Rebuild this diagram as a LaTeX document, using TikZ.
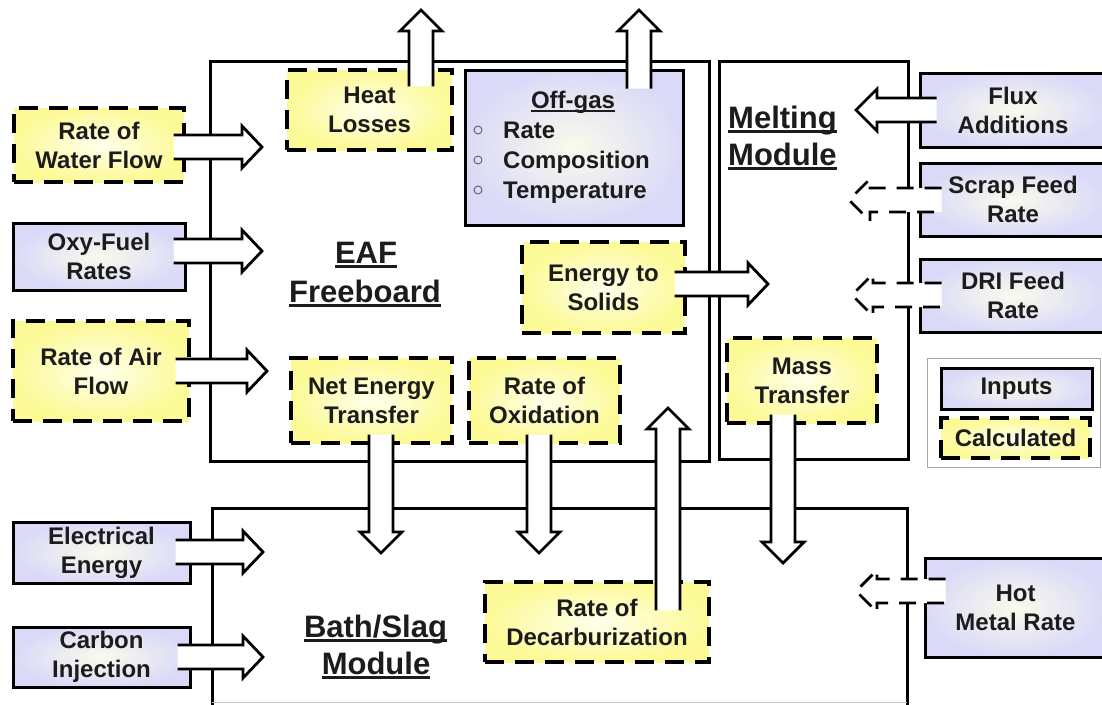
\documentclass[tikz,border=0pt]{standalone}
\usepackage{fontspec}
\setmainfont{Liberation Sans}
\usetikzlibrary{calc}
\definecolor{ylw}{RGB}{252,250,150}
\definecolor{ylwc}{RGB}{255,255,236}
\definecolor{blu}{RGB}{218,218,248}
\definecolor{bluc}{RGB}{250,250,236}
\definecolor{txt}{RGB}{28,28,28}
\newsavebox{\ulbox}
\newcommand\ulx[3]{\sbox\ulbox{#3}\rlap{\rule[-#1]{\wd\ulbox}{#2}}\usebox\ulbox}
% arrows: #1 style, #2 start, #3 tip
\newcommand\rarr[3][arr]{\path[#1] let \p1=(#2), \p2=(#3) in
  (\x1,\y1+12pt) -- (\x2-20pt,\y1+12pt) -- (\x2-20pt,\y1+21pt) -- (\x2,\y1) --
  (\x2-20pt,\y1-21pt) -- (\x2-20pt,\y1-12pt) -- (\x1,\y1-12pt);}
\newcommand\larr[3][arr]{\path[#1] let \p1=(#2), \p2=(#3) in
  (\x1,\y1+12pt) -- (\x2+21pt,\y1+12pt) -- (\x2+21pt,\y1+21pt) -- (\x2,\y1) --
  (\x2+21pt,\y1-21pt) -- (\x2+21pt,\y1-12pt) -- (\x1,\y1-12pt);}
\newcommand\uarr[3][arr]{\path[#1] let \p1=(#2), \p2=(#3) in
  (\x1-12pt,\y1) -- (\x1-12pt,\y2-21pt) -- (\x1-21pt,\y2-21pt) -- (\x1,\y2) --
  (\x1+21pt,\y2-21pt) -- (\x1+12pt,\y2-21pt) -- (\x1+12pt,\y1);}
\newcommand\darr[3][arr]{\path[#1] let \p1=(#2), \p2=(#3) in
  (\x1-12pt,\y1) -- (\x1-12pt,\y2+21pt) -- (\x1-21pt,\y2+21pt) -- (\x1,\y2) --
  (\x1+21pt,\y2+21pt) -- (\x1+12pt,\y2+21pt) -- (\x1+12pt,\y1);}
\begin{document}
\begin{tikzpicture}[x=1pt,y=-1pt,
  lbl/.style={text=txt, font=\bfseries\fontsize{24}{29}\selectfont, inner sep=0pt},
  big/.style={text=txt, font=\bfseries\fontsize{31}{37}\selectfont, inner sep=0pt},
  bx/.style={lbl, draw=black, line width=3pt, align=center},
  inbox/.style={bx, shading=radial, inner color=bluc, outer color=blu},
  calcbox/.style={bx, line width=3.2pt, dash pattern=on 19pt off 11pt, shading=radial, inner color=ylwc, outer color=ylw},
  sz/.style 2 args={minimum width=#1, minimum height=#2},
  frame/.style={draw=black, line width=3pt},
  arr/.style={draw=black, fill=white, line width=2.8pt, line join=miter},
  dasharr/.style={arr, dash pattern=on 17pt off 11pt},
]
\useasboundingbox (0,0) rectangle (1102,704);
\fill[white] (0,0) rectangle (1102,704);

% module frames
\node[frame, sz={499}{400}, anchor=north west] (eafbox) at (209,60) {};
\node[frame, sz={189}{398}, anchor=north west] (meltbox) at (718,60) {};
\draw[frame] (212,712) coordinate (bathBL) -- (212,508) coordinate (bathTL) -- (907,508) coordinate (bathTR) -- (907,712) coordinate (bathBR);
\draw[gray!45, line width=1pt] (212,702) -- (907,702);
\node[draw=gray!70, line width=1pt, sz={173}{109}, anchor=north west] (legend) at (927,358) {};

% left inputs
\node[calcbox, sz={170}{74}] (water) at (99,145) {Rate of\\Water Flow};
\node[inbox, sz={172}{67}] (oxy) at (99,256.5) {Oxy-Fuel\\Rates};
\node[calcbox, sz={176}{100}] (air) at (101,371) {Rate of Air\\Flow};
\node[inbox, sz={177}{61}] (elec) at (101.5,552.5) {Electrical\\Energy};
\node[inbox, sz={177}{60}] (carbon) at (101.5,657) {Carbon\\Injection};

% internal boxes
\node[calcbox, sz={165}{80}] (heat) at (369.5,110) {Heat\\Losses};
\node[inbox, sz={218}{155}] (offgas) at (574,147.5) {};
\node[calcbox, sz={163}{91}] (solids) at (603.5,287.5) {Energy to\\Solids};
\node[calcbox, sz={161}{85}] (net) at (371.5,400.5) {Net Energy\\Transfer};
\node[calcbox, sz={151}{85}] (oxid) at (544.5,400.5) {Rate of\\Oxidation};
\node[calcbox, sz={150}{85}] (mass) at (802,380.5) {Mass\\Transfer};
\node[calcbox, sz={224}{80}] (decarb) at (597,622) {Rate of\\Decarburization};

% right inputs
\node[inbox, sz={186}{74}] (flux) at (1013,110) {Flux\\Additions};
\node[inbox, sz={186}{73}] (scrap) at (1013,199.5) {Scrap Feed\\Rate};
\node[inbox, sz={186}{73}] (dri) at (1013,295.5) {DRI Feed\\Rate};
\node[inbox, sz={181}{99}] (hot) at (1015.5,607.5) {Hot\\Metal Rate};

% legend
\node[inbox, sz={151}{41}] (leginp) at (1016.5,388.5) {Inputs};
\node[calcbox, sz={149}{40}] (legcalc) at (1015.5,438) {Calculated};

% off-gas contents
\node[lbl, anchor=base] (ogt) at (573,108) {\ulx{4pt}{1.8pt}{Off-gas}};
\node[lbl, anchor=base west] (og1) at (503,138) {Rate};
\node[lbl, anchor=base west] (og2) at (503,168) {Composition};
\node[lbl, anchor=base west] (og3) at (503,198) {Temperature};
\foreach \yy in {130,160,190} \draw[gray!80!black, line width=1pt] (478,\yy) circle (4pt);

% tips
\coordinate (tWater) at (262,147);
\coordinate (tOxy) at (262,251);
\coordinate (tAir) at (267,371);
\coordinate (tElec) at (263,552);
\coordinate (tCarb) at (263,657);
\coordinate (tHeat) at (421,10);
\coordinate (tGas) at (639,10);
\coordinate (tSolids) at (768,284);
\coordinate (tNet) at (381,553);
\coordinate (tOxid) at (539,553);
\coordinate (tDecarb) at (668,408);
\coordinate (tMass) at (783,563);
\coordinate (tFlux) at (856,110);
\coordinate (tScrap) at (849,200);
\coordinate (tDri) at (852,295);
\coordinate (tHot) at (856,591);

% arrows
\rarr{$(water.east)+(-12,2)$}{tWater}
\rarr{$(oxy.east)+(-13,-5.5)$}{tOxy}
\rarr{$(air.east)+(-15,0)$}{tAir}
\rarr{$(elec.east)+(-16,-0.5)$}{tElec}
\rarr{$(carbon.east)+(-14,0)$}{tCarb}
\uarr{$(heat.north)+(51.5,18)$}{tHeat}
\uarr{$(offgas.north)+(65,20)$}{tGas}
\rarr{$(solids.east)+(-12,-3.5)$}{tSolids}
\darr{$(net.south)+(9.5,-10)$}{tNet}
\darr{$(oxid.south)+(-5.5,-10)$}{tOxid}
\uarr{$(decarb.north)+(71,30)$}{tDecarb}
\darr{$(mass.south)+(-19,-10)$}{tMass}
\larr{$(flux.west)+(18,0)$}{tFlux}
\larr[dasharr]{$(scrap.west)+(23,0.5)$}{tScrap}
\larr[dasharr]{$(dri.west)+(23,-0.5)$}{tDri}
\larr[dasharr]{$(hot.west)+(22,-16.5)$}{tHot}

% module labels
\node[big, anchor=base] (eaf1) at (366,263) {\ulx{5pt}{2.6pt}{EAF}};
\node[big, anchor=base] (eaf2) at (365,302) {\ulx{5pt}{2.6pt}{Freeboard}};
\node[big, anchor=base west] (melt1) at (728,128) {\ulx{5pt}{2.6pt}{Melting}};
\node[big, anchor=base west] (melt2) at (728,165) {\ulx{5pt}{2.6pt}{Module}};
\node[big, anchor=base] (bath1) at (375.5,637) {\ulx{5pt}{2.6pt}{Bath/Slag}};
\node[big, anchor=base] (bath2) at (376,674) {\ulx{5pt}{2.6pt}{Module}};
\end{tikzpicture}
\end{document}
